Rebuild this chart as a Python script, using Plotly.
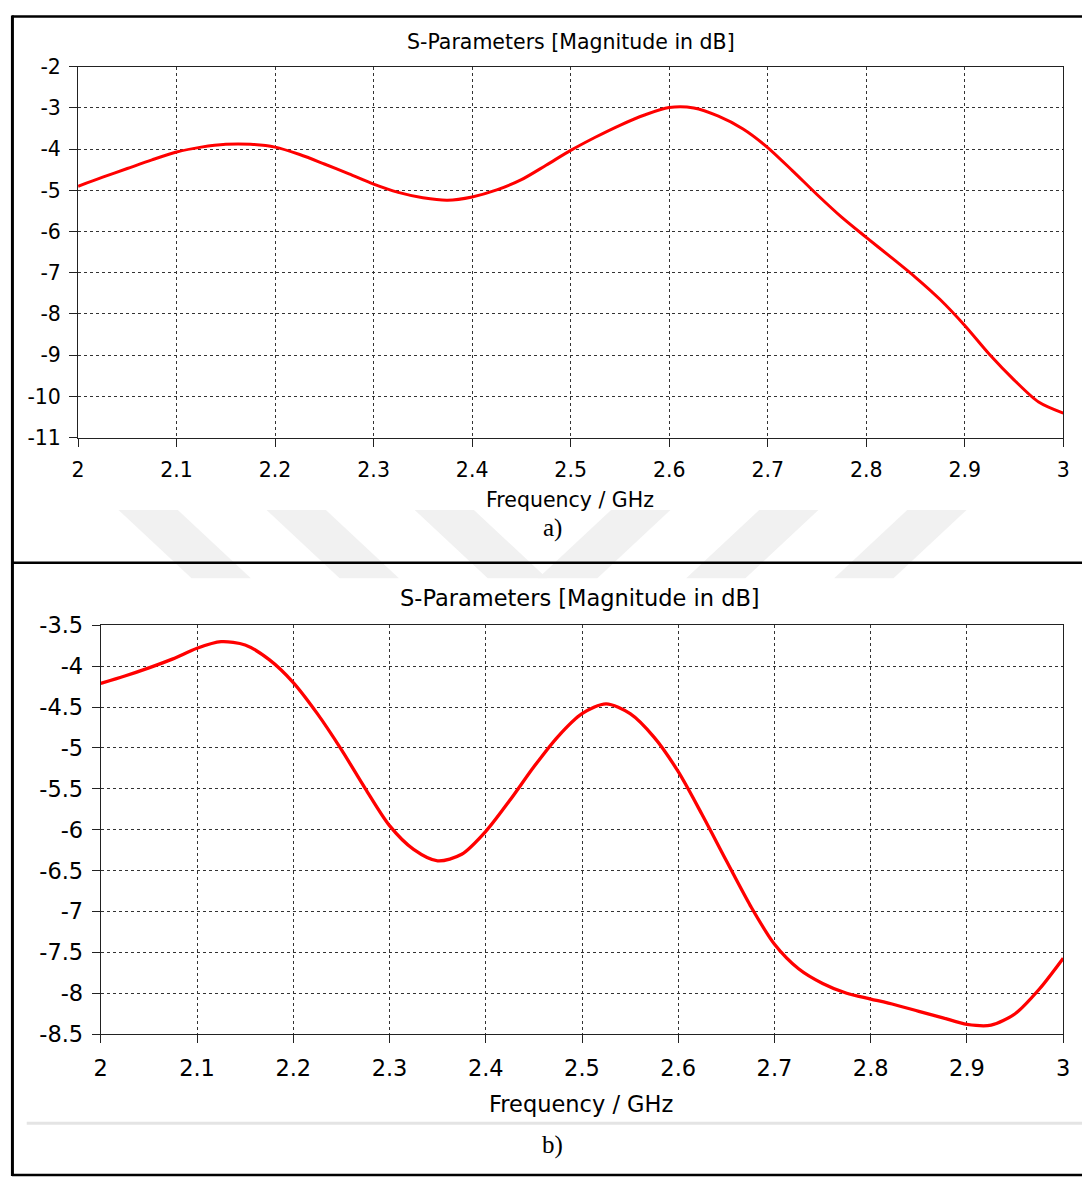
import plotly.graph_objects as go

# ---------------- data ----------------
freq_a = [2.0, 2.025, 2.05, 2.075, 2.1, 2.125, 2.15, 2.175, 2.2, 2.225, 2.25, 2.275, 2.3, 2.325,
          2.35, 2.375, 2.4, 2.425, 2.45, 2.475, 2.5, 2.525, 2.55, 2.575, 2.6, 2.625, 2.65, 2.675,
          2.7, 2.725, 2.75, 2.775, 2.8, 2.825, 2.85, 2.875, 2.9, 2.925, 2.95, 2.975, 3.0]
s_a = [-4.90, -4.68, -4.47, -4.26, -4.07, -3.95, -3.88, -3.88, -3.95, -4.13, -4.36, -4.60, -4.85,
       -5.05, -5.18, -5.24, -5.16, -4.99, -4.74, -4.39, -4.03, -3.71, -3.42, -3.17, -2.99, -3.00,
       -3.20, -3.51, -3.96, -4.52, -5.10, -5.65, -6.14, -6.62, -7.11, -7.65, -8.28, -8.98, -9.60,
       -10.14, -10.41]

freq_b = [2.0, 2.025, 2.05, 2.075, 2.1, 2.125, 2.15, 2.175, 2.2, 2.225, 2.25, 2.275, 2.3, 2.325,
          2.35, 2.375, 2.4, 2.425, 2.45, 2.475, 2.5, 2.525, 2.55, 2.575, 2.6, 2.625, 2.65, 2.675,
          2.7, 2.725, 2.75, 2.775, 2.8, 2.825, 2.85, 2.875, 2.9, 2.925, 2.95, 2.975, 3.0]
s_b = [-4.21, -4.12, -4.02, -3.91, -3.78, -3.70, -3.74, -3.92, -4.20, -4.58, -5.02, -5.50, -5.95,
       -6.24, -6.38, -6.30, -6.02, -5.64, -5.23, -4.86, -4.58, -4.46, -4.58, -4.87, -5.29, -5.82,
       -6.38, -6.93, -7.40, -7.70, -7.88, -8.00, -8.07, -8.14, -8.22, -8.30, -8.38, -8.39, -8.25,
       -7.95, -7.57]

x_ticks = [2.0, 2.1, 2.2, 2.3, 2.4, 2.5, 2.6, 2.7, 2.8, 2.9, 3.0]
x_ticklabels = ["2", "2.1", "2.2", "2.3", "2.4", "2.5", "2.6", "2.7", "2.8", "2.9", "3"]
ya_ticks = [-2, -3, -4, -5, -6, -7, -8, -9, -10, -11]
ya_ticklabels = ["-2", "-3", "-4", "-5", "-6", "-7", "-8", "-9", "-10", "-11"]
yb_ticks = [-3.5, -4, -4.5, -5, -5.5, -6, -6.5, -7, -7.5, -8, -8.5]
yb_ticklabels = ["-3.5", "-4", "-4.5", "-5", "-5.5", "-6", "-6.5", "-7", "-7.5", "-8", "-8.5"]

title_text = "S-Parameters [Magnitude in dB]"
xaxis_text = "Frequency / GHz"

# ---------------- layout helpers ----------------
W, H = 1089, 1190
def px(x):
    return x / W
def py(y):
    return 1 - y / H

FONT = "DejaVu Sans"

fig = go.Figure()
fig.add_trace(go.Scatter(x=freq_a, y=s_a, mode="lines",
                         line=dict(color="#ff0000", width=3, shape="spline", smoothing=0.8),
                         xaxis="x", yaxis="y", showlegend=False, hoverinfo="skip"))
fig.add_trace(go.Scatter(x=freq_b, y=s_b, mode="lines",
                         line=dict(color="#ff0000", width=3.3, shape="spline", smoothing=0.8),
                         xaxis="x2", yaxis="y2", showlegend=False, hoverinfo="skip"))

def axis_common(size):
    return dict(showline=True, linecolor="#222222", linewidth=1.2, mirror=True,
                showgrid=True, gridcolor="#333333", gridwidth=1, griddash="3px,3px",
                ticks="outside", ticklen=8, tickwidth=1.2, tickcolor="#222222",
                tickfont=dict(family=FONT, size=size, color="black"),
                zeroline=False, fixedrange=True)

fig.update_layout(
    width=W, height=H, margin=dict(l=0, r=0, t=0, b=0),
    paper_bgcolor="white", plot_bgcolor="white",
    xaxis=dict(domain=[px(72), px(1070)], range=[2, 3], tickvals=x_ticks, ticktext=x_ticklabels,
               anchor="y", ticklabelstandoff=6, **axis_common(20.5)),
    yaxis=dict(domain=[py(434), py(55)], range=[-11, -2], tickvals=ya_ticks, ticktext=ya_ticklabels,
               anchor="x", ticklabelstandoff=4, **axis_common(20.5)),
    xaxis2=dict(domain=[px(95), px(1070)], range=[2, 3], tickvals=x_ticks, ticktext=x_ticklabels,
                anchor="y2", ticklabelstandoff=6, **axis_common(22.5)),
    yaxis2=dict(domain=[py(1044), py(626)], range=[-8.5, -3.5], tickvals=yb_ticks, ticktext=yb_ticklabels,
                anchor="x2", ticklabelstandoff=4, **axis_common(22.5)),
)

ann = []
def text(x, y, t, size, family=FONT):
    ann.append(dict(x=px(x), y=py(y), xref="paper", yref="paper", text=t, showarrow=False,
                    xanchor="center", yanchor="middle", font=dict(family=family, size=size, color="black")))

text(571, 30, title_text, 20.5)
text(570, 498, xaxis_text, 20.5)
text(553, 527, "a)", 25, "Liberation Serif")
text(580, 598, title_text, 22.5)
text(581, 1115, xaxis_text, 22.5)
text(553, 1157, "b)", 25, "Liberation Serif")
fig.update_layout(annotations=ann)

shapes = []
# faint watermark stripes
def para(pts, color="#f1f1f1"):
    path = "M " + " L ".join(f"{px(a)},{py(b)}" for a, b in pts) + " Z"
    shapes.append(dict(type="path", path=path, xref="paper", yref="paper", fillcolor=color,
                       line=dict(width=0), layer="below"))
for x0 in [113, 263, 413]:
    para([(x0, 508), (x0 + 60, 508), (x0 + 134, 578), (x0 + 74, 578)])
for x1 in [972, 822, 672]:
    para([(x1, 508), (x1 - 60, 508), (x1 - 134, 578), (x1 - 74, 578)])

def hline(y, x0, x1, w, color="black"):
    shapes.append(dict(type="line", xref="paper", yref="paper", x0=px(x0), x1=px(x1), y0=py(y), y1=py(y),
                       line=dict(color=color, width=w)))
def vline(x, y0, y1, w, color="black"):
    shapes.append(dict(type="line", xref="paper", yref="paper", x0=px(x), x1=px(x), y0=py(y0), y1=py(y1),
                       line=dict(color=color, width=w)))

hline(1135, 20, 1089, 3, "#e4e4e4")
hline(3.5, 5, 1089, 2.5)
hline(562, 5, 1089, 2.5)
hline(1188, 5, 1089, 2.5)
vline(5.5, 2.5, 1189, 3)
fig.update_layout(shapes=shapes)

fig.write_html("out.html", config={"displayModeBar": False},
               post_script="document.body.style.margin='0';document.body.style.overflow='hidden';")
